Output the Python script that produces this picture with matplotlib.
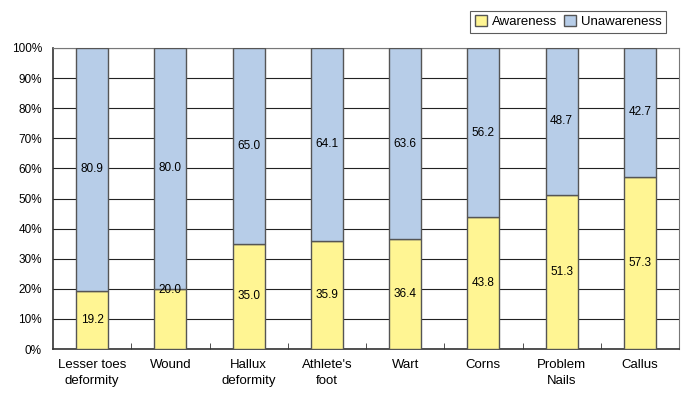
import matplotlib.pyplot as plt
import numpy as np

plt.rcParams['font.family'] = ['Liberation Sans', 'DejaVu Sans']

categories = ['Lesser toes\ndeformity', 'Wound', 'Hallux\ndeformity', "Athlete's\nfoot",
              'Wart', 'Corns', 'Problem\nNails', 'Callus']
awareness = [19.2, 20.0, 35.0, 35.9, 36.4, 43.8, 51.3, 57.3]
unawareness = [80.9, 80.0, 65.0, 64.1, 63.6, 56.2, 48.7, 42.7]

yellow = '#fff593'
blue = '#b7cde8'

fig = plt.figure(figsize=(6.9, 3.97), dpi=100)
ax = fig.add_axes([53 / 690, 1 - 349 / 397, 626 / 690, 301 / 397])

x = np.arange(len(categories))
ax.bar(x, awareness, width=0.41, color=yellow, edgecolor='#555555', linewidth=1.0,
       label='Awareness', zorder=3)
ax.bar(x, unawareness, width=0.41, bottom=awareness, color=blue, edgecolor='#555555',
       linewidth=1.0, label='Unawareness', zorder=3)

# value labels in the middle of each segment
for i in range(len(x)):
    ya = awareness[i] / 2
    if categories[i] == 'Wound':
        # in the original this one sits on the boundary
        ya = awareness[i] - 0.5
    ax.text(x[i], ya, '%.1f' % awareness[i], ha='center', va='center',
            fontsize=8.5, zorder=4)
    ax.text(x[i], awareness[i] + unawareness[i] / 2, '%.1f' % unawareness[i],
            ha='center', va='center', fontsize=8.5, zorder=4)

ax.set_xlim(-0.5, len(categories) - 0.5)
ax.set_ylim(0, 100)
ax.set_yticks(np.arange(0, 101, 10))
ax.set_yticklabels(['%d%%' % v for v in range(0, 101, 10)], fontsize=8.5)
ax.yaxis.grid(True, color='#222222', linewidth=0.8, zorder=0)
ax.tick_params(axis='y', length=0, pad=8)

ax.set_xticks(x)
ax.set_xticklabels(categories, fontsize=9.5, linespacing=1.45)
ax.tick_params(axis='x', length=0, pad=7)
# small inside ticks on category boundaries
ax.set_xticks(np.arange(0.5, len(categories) - 0.5, 1), minor=True)
ax.tick_params(axis='x', which='minor', direction='in', length=4, color='#333333')

for side in ['top', 'right']:
    ax.spines[side].set_color('#777777')
for side in ['left', 'bottom']:
    ax.spines[side].set_color('#333333')
    ax.spines[side].set_linewidth(1.2)

leg = ax.legend(loc='upper right', bbox_to_anchor=(673 / 690, 1 - 4 / 397),
                bbox_transform=fig.transFigure, ncol=2, fontsize=9.5, frameon=True,
                fancybox=False, edgecolor='#333333', handlelength=0.9, handleheight=0.9,
                handletextpad=0.4, columnspacing=0.5, borderpad=0.35)
leg.get_frame().set_linewidth(0.8)

fig.savefig('out.png', dpi=100)
